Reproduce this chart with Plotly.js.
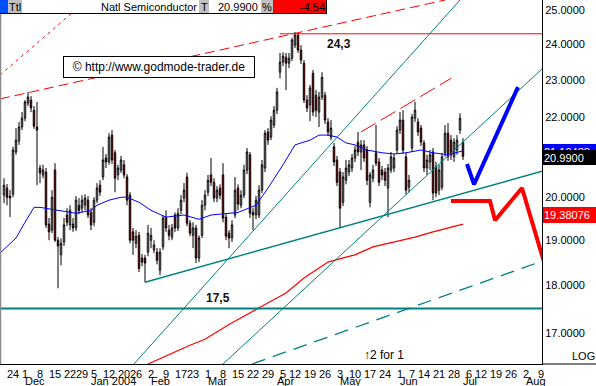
<!DOCTYPE html>
<html><head><meta charset="utf-8">
<script src="https://cdn.plot.ly/plotly-3.0.1.min.js"></script>
<style>html,body{margin:0;padding:0;background:#fff;}#chart{width:596px;height:386px;}</style>
</head><body><div id="chart"></div>
<script>
// ---- trading calendar (x axis = trading-day index) ----
const calendarStart = '2003-11-17';
const calendarEnd = '2004-08-13';
const holidays = ['2003-11-27','2003-12-25','2004-01-01','2004-01-19','2004-02-16','2004-04-09','2004-05-31','2004-06-11','2004-07-05'];
const firstBar = '2003-11-19';
const monthNames = ['Jan','Feb','Mar','Apr','May','Jun','Jul','Aug','Sep','Oct','Nov','Dec'];

// ---- daily candles, Natl Semiconductor ----
const opens = [
20.04,20.21,20.02,20.06,21.10,21.38,21.74,21.97,22.37,22.45,
22.18,21.74,20.70,20.53,20.60,19.36,19.22,20.65,18.99,18.66,
18.95,19.57,19.34,19.36,19.27,19.80,19.73,19.80,19.92,19.63,
19.40,19.92,20.28,20.48,20.95,20.85,21.53,21.08,20.53,20.65,
20.78,20.48,20.04,19.18,18.92,19.10,18.59,18.59,18.72,18.99,
18.77,18.72,18.32,18.84,19.52,19.22,19.06,19.57,19.27,19.68,
19.97,20.48,19.38,19.10,19.27,18.59,19.10,19.80,20.11,20.53,
20.35,19.97,20.21,20.53,19.52,19.15,19.04,19.57,20.21,19.80,
20.04,20.65,21.03,19.63,19.57,19.57,20.16,20.70,21.61,21.48,
21.79,22.18,23.21,23.49,23.63,23.46,23.60,23.97,24.26,23.83,
23.46,22.45,22.32,23.18,22.58,22.13,22.53,22.58,21.87,21.48,
21.23,20.90,20.60,19.87,20.40,20.60,20.70,20.95,21.35,21.10,
21.28,21.15,19.87,20.45,21.08,20.85,20.65,20.60,20.21,20.65,
20.70,21.15,21.66,21.92,20.98,20.23,21.20,21.97,21.87,21.71,
21.33,20.70,20.85,21.10,20.73,20.16,20.23,21.08,21.58,21.40,
20.98,21.15,21.66,21.35];
const highs = [
20.45,20.31,20.16,21.23,21.71,21.87,22.13,22.45,22.67,22.56,
22.29,22.40,20.78,20.78,20.70,19.50,20.16,20.82,19.06,19.03,
19.50,19.73,19.80,19.50,20.02,19.97,20.04,20.06,20.02,19.73,
19.99,20.33,20.40,21.23,21.05,21.58,21.66,21.15,20.78,21.00,
20.90,20.55,20.11,19.27,19.22,19.18,18.68,18.66,19.34,19.27,
18.99,18.81,18.81,19.57,19.68,19.34,19.36,19.63,19.73,20.04,
20.33,20.58,19.45,19.40,19.34,19.10,19.92,20.16,20.53,20.95,
20.45,20.26,20.30,20.82,19.59,19.22,19.45,20.48,20.30,20.16,
20.78,21.20,21.10,19.73,20.02,20.28,20.90,21.66,21.71,22.02,
22.29,22.78,23.75,23.77,23.75,23.75,24.18,24.35,24.32,23.97,
23.55,22.58,22.86,23.27,22.72,22.67,23.21,22.67,21.97,21.92,
21.33,21.00,20.70,20.60,20.90,20.90,21.05,21.25,21.61,21.40,
21.40,21.25,20.60,20.78,21.79,20.95,20.75,20.70,20.80,21.10,
21.05,21.76,22.13,22.18,21.08,20.53,22.08,22.40,21.97,21.79,
21.40,21.03,21.15,21.20,20.85,20.78,21.08,21.79,21.84,21.53,
21.45,21.53,22.10,21.45];
const lows = [
19.85,19.80,19.52,19.99,21.03,21.28,21.66,21.89,22.29,22.13,
21.69,20.28,20.33,20.45,19.27,18.99,19.15,18.95,17.93,18.43,
18.86,19.31,19.22,19.18,19.20,19.59,19.63,19.68,19.50,19.22,
19.31,19.85,20.02,20.40,20.70,20.78,20.80,20.11,20.40,20.58,
20.45,19.80,18.92,18.66,18.81,18.28,18.41,18.06,18.63,18.81,
18.70,18.45,18.21,18.77,19.18,18.99,18.99,19.18,19.20,19.59,
19.87,19.31,19.08,18.81,18.48,18.50,19.04,19.68,20.02,20.26,
19.87,19.87,19.94,19.40,18.99,18.81,18.95,19.50,19.68,19.73,
19.97,20.55,19.50,19.22,19.47,19.50,20.09,20.60,21.28,21.40,
21.71,22.08,23.04,23.38,22.72,23.32,23.52,23.89,23.75,23.44,
22.37,22.13,21.89,22.02,22.00,21.74,22.45,21.82,21.51,21.40,
20.75,20.26,19.27,19.78,20.30,20.50,20.60,20.85,21.00,20.65,
20.85,20.28,19.75,20.35,20.75,20.26,20.40,20.26,19.52,20.58,
20.60,21.05,21.56,21.05,20.06,20.11,21.10,21.87,21.51,21.25,
20.60,20.53,20.65,19.92,19.99,20.04,20.16,20.98,20.88,20.90,
20.85,21.03,21.56,20.90];
const closes = [
20.28,19.99,19.97,21.15,21.40,21.74,21.97,22.40,22.53,22.24,
21.76,21.66,20.58,20.65,19.34,19.18,19.99,18.99,18.86,18.92,
19.34,19.40,19.68,19.27,19.92,19.68,19.92,19.97,19.57,19.34,
19.92,20.21,20.11,20.90,20.85,21.48,20.90,20.45,20.70,20.90,
20.53,19.92,18.99,18.99,19.08,18.36,18.50,18.48,19.15,19.10,
18.88,18.54,18.72,19.50,19.27,19.10,19.27,19.27,19.61,19.92,
20.16,19.38,19.15,19.27,18.59,19.04,19.80,20.04,20.40,20.35,
19.97,20.16,20.04,19.50,19.08,19.04,19.34,20.16,19.83,20.04,
20.65,21.10,19.61,19.57,19.92,20.16,20.78,21.58,21.40,21.92,
22.18,22.67,23.49,23.66,23.46,23.60,24.12,24.26,23.83,23.55,
22.45,22.24,22.78,22.13,22.18,22.53,23.07,21.92,21.61,21.71,
20.85,20.35,19.73,20.48,20.70,20.78,20.95,21.15,21.10,21.28,
20.95,20.40,20.53,20.65,20.82,20.35,20.53,20.40,20.70,20.98,
20.95,21.66,21.92,21.15,20.16,20.40,22.00,22.18,21.61,21.35,
20.70,20.90,21.03,20.09,20.09,20.65,20.98,21.58,20.98,21.03,
21.35,21.40,21.97,20.99];

// ---- moving averages (trading-day index, price) ----
const maBlueX = [1,6,9,12,14,20,26,31,33,37,41,43,47,51,56,62,67,71,76,80,86,90,95,99,104,107,110,113,116,119,123,128,132,136,141,145,150,153,155];
const maBlueY = [18.72,19.04,19.40,19.75,19.75,19.68,19.61,19.68,19.80,19.92,19.99,19.99,19.87,19.68,19.52,19.57,19.47,19.57,19.61,19.63,19.80,20.21,20.78,21.28,21.40,21.53,21.53,21.48,21.33,21.28,21.15,21.08,21.05,21.08,21.15,21.08,21.03,21.08,21.13];
const maRedX = [50,56,64,69,77,86,96,102,106,110,116,119,125,132,139,145,151,155];
const maRedY = [16.38,16.54,16.75,16.87,17.17,17.48,17.83,18.15,18.32,18.50,18.61,18.66,18.84,18.95,19.06,19.18,19.29,19.36];

// ---- drawn trend lines (trading-day index, price) ----
const chanTopX = [0.667,149];      const chanTopY = [22.48,25.30];
const steepRedX = [0.667,29.67];   const steepRedY = [23.13,25.30];
const chanMidX = [121,151];        const chanMidY = [21.61,23.04];
const resistX = [94,181.33];       const resistY = [24.3,24.3];
const supportHX = [0.667,181.33];  const supportHY = [17.5,17.5];
const supportX = [49,181.33];      const supportY = [18.06,20.62];
const fanAX = [45.33,154];         const fanAY = [16.38,25.30];
const fanBX = [75,181.33];         const fanBY = [16.38,23.30];
const lowDashX = [84.67,181.33];   const lowDashY = [16.38,18.52];
const projUpX = [156.33,158.67,173.33];           const projUpY = [20.80,20.30,22.80];
const projDnX = [151,164,165.67,174.67,184];      const projDnY = [19.90,19.90,19.45,20.21,18.06];

const yTickVals = [17,18,19,20,21,22,23,24,25];
const yTickText = ['17.0000','18.0000','19.0000','20.0000','21.0000','22.0000','23.0000','24.0000','25.0000'];

// ---- build calendar ----
const hol = new Set(holidays);
const days = [];
for (let d = new Date(calendarStart+'T00:00:00Z'); d <= new Date(calendarEnd+'T00:00:00Z'); d = new Date(d.getTime()+86400000)) {
  const wd = d.getUTCDay();
  const s = d.toISOString().slice(0,10);
  if (wd === 0 || wd === 6 || hol.has(s)) continue;
  days.push(d);
}
const xMin = 0.667, xMax = 181.33;
const tickVals = [], tickText = [], monthAnn = [];
days.forEach((d,i) => {
  const prev = days[i-1];
  if (i === 0 || d.getUTCDay() <= prev.getUTCDay() || (d - prev) > 6*86400000) {
    tickVals.push(i); tickText.push(String(d.getUTCDate()));
  }
  if (i > 0 && d.getUTCMonth() !== prev.getUTCMonth() && i >= xMin) {
    const m = d.getUTCMonth();
    monthAnn.push({x:i, text: m === 0 ? monthNames[m]+' '+d.getUTCFullYear() : monthNames[m]});
  }
});
const startIdx = days.findIndex(d => d.toISOString().slice(0,10) === firstBar);
const candleX = closes.map((_,i) => startIdx + i);

// ---- pixel helpers for layout decorations ----
const PW = 542, PH = 364;
const X = px => px / PW, Y = py => 1 - py / PH;
const FONT = 'Liberation Sans, Arial, sans-serif';

const teal = '#008080';
function line(x, y, color, width, dash) {
  return {type:'scatter', mode:'lines', x, y, line:{color, width, dash: dash || 'solid'}, hoverinfo:'skip', showlegend:false};
}

const traces = [
  {type:'candlestick', x:candleX, open:opens, high:highs, low:lows, close:closes,
   increasing:{line:{color:'#000', width:1}, fillcolor:'#ffffff'},
   decreasing:{line:{color:'#000', width:1}, fillcolor:'#ff0000'},
   whiskerwidth:0, hoverinfo:'skip', showlegend:false},
  line(maBlueX, maBlueY, '#0000ff', 1),
  line(maRedX, maRedY, '#ff0000', 1.2),
  line(chanTopX, chanTopY, '#ff0000', 1, '10px,5px'),
  line(steepRedX, steepRedY, '#ff0000', 1, '3px,4px'),
  line(chanMidX, chanMidY, '#ff0000', 1, '17px,6px'),
  line(resistX, resistY, '#ff0000', 1),
  line(supportHX, supportHY, teal, 2),
  line(supportX, supportY, teal, 1.4),
  line(fanAX, fanAY, teal, 1),
  line(fanBX, fanBY, teal, 1),
  line(lowDashX, lowDashY, teal, 1.3, '14px,8px'),
  line(projUpX, projUpY, '#0000ff', 4),
  line(projDnX, projDnY, '#ff0000', 4)
];

function ann(text, px, py, o) {
  return Object.assign({text, xref:'paper', yref:'paper', x:X(px), y:Y(py), showarrow:false,
    xanchor:'left', yanchor:'middle', borderpad:0, borderwidth:0,
    font:{family:FONT, size:11, color:'#000'}}, o || {});
}
function rect(x0, y0, x1, y1, fill) {
  return {type:'rect', xref:'paper', yref:'paper', x0:X(x0), x1:X(x1), y0:Y(y0), y1:Y(y1),
    fillcolor:fill, line:{width:0}, layer:'above'};
}
function seg(x0, y0, x1, y1, color, w) {
  return {type:'line', xref:'paper', yref:'paper', x0:X(x0), x1:X(x1), y0:Y(y0), y1:Y(y1),
    line:{color, width:w || 1}, layer:'above'};
}

const shapes = [
  rect(0, 0, 327, 13, '#ffffff'),
  rect(0, 0, 8, 13, '#0050ff'),
  rect(8, 0, 22, 13, '#c0c0c0'),
  rect(199, 0, 209, 13, '#c0c0c0'),
  rect(261, 0, 273, 13, '#c0c0c0'),
  rect(273, 0, 326.5, 13, '#ff0000'),
  seg(0, 13.5, 327, 13.5, '#000', 1),
  seg(326.5, 0, 326.5, 13.5, '#000', 1),
  seg(542, 364, 596, 364, '#000', 1),
  seg(0.5, 14, 0.5, 364, '#8a8a8a', 1.5)
];

const annotations = [
  ann('Ttl', 9, 7),
  ann('Natl Semiconductor', 197, 7, {xanchor:'right'}),
  ann('T', 201, 7),
  ann('20.9900', 258, 7, {xanchor:'right'}),
  ann('%', 262, 7),
  ann('-4.54', 325, 7, {xanchor:'right'}),
  ann('© http://www.godmode-trader.de', 159, 67, {xanchor:'center', font:{family:FONT, size:12, color:'#000'},
      bgcolor:'#ffffff', bordercolor:'#000', borderwidth:1, borderpad:2, width:186, height:16}),
  ann('<b>24,3</b>', 339, 44, {xanchor:'center', font:{family:FONT, size:12, color:'#111'}}),
  ann('<b>17,5</b>', 218, 298, {xanchor:'center', font:{family:FONT, size:12, color:'#111'}}),
  ann('↑2 for 1', 364, 355, {font:{family:FONT, size:12, color:'#000'}}),
  ann('LOG', 595, 356, {xanchor:'right'}),
  ann('21.10488', 543, 151.5, {bgcolor:'#0000ff', font:{family:FONT, size:11, color:'#fff'}, width:51, height:13, borderpad:1, align:'left'}),
  ann('20.9900', 543, 157, {bgcolor:'#000000', font:{family:FONT, size:11, color:'#fff'}, width:51, height:13, borderpad:1, align:'left'}),
  ann('19.38076', 543, 215, {bgcolor:'#ff0000', font:{family:FONT, size:11, color:'#fff'}, width:51, height:14, borderpad:1, align:'left'})
];
monthAnn.forEach(m => annotations.push({text:m.text, xref:'x', yref:'paper', x:m.x, y:Y(381),
  xanchor:'left', yanchor:'middle', showarrow:false, borderpad:0, borderwidth:0,
  font:{family:FONT, size:11, color:'#000'}}));

const layout = {
  width:596, height:386, margin:{l:0, r:54, t:0, b:22, pad:0},
  paper_bgcolor:'#ffffff', plot_bgcolor:'#ffffff', showlegend:false, boxgap:0.3,
  xaxis:{range:[xMin, xMax], rangeslider:{visible:false}, showgrid:false, zeroline:false,
    showline:true, linecolor:'#000', linewidth:1, ticks:'', tickvals:tickVals, ticktext:tickText,
    tickangle:0, automargin:false, tickfont:{family:FONT, size:11, color:'#000'}, fixedrange:true},
  yaxis:{type:'log', range:[Math.log10(16.38), Math.log10(25.30)], side:'right', showgrid:false,
    zeroline:false, showline:true, linecolor:'#000', linewidth:1, ticks:'', tickvals:yTickVals,
    ticktext:yTickText, automargin:false, tickfont:{family:FONT, size:11, color:'#000'}, fixedrange:true},
  shapes, annotations
};
Plotly.newPlot('chart', traces, layout, {staticPlot:true, displayModeBar:false});
</script>
</body></html>
